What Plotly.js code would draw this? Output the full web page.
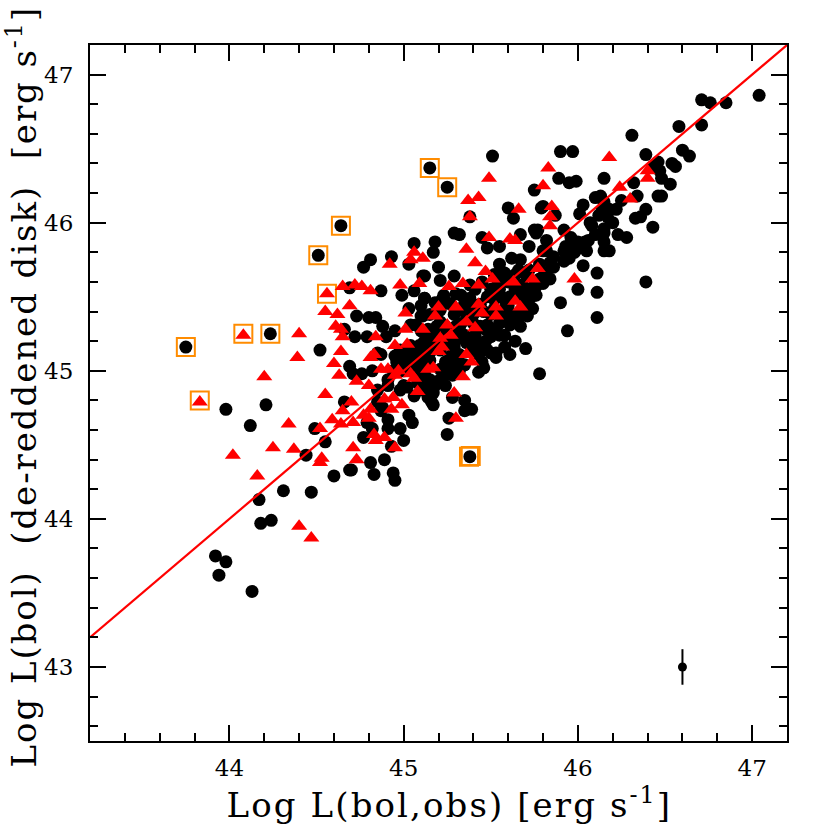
<!DOCTYPE html>
<html>
<head>
<meta charset="utf-8">
<script src="https://cdn.plot.ly/plotly-3.0.1.min.js"></script>
<style>html,body{margin:0;padding:0;background:#fff}
.xtitle{letter-spacing:2.1px}
.ytitle{letter-spacing:1.93px}</style>
</head>
<body>
<div id="chart" style="width:830px;height:830px"></div>
<script>
const blackPoints = [
[43.75,45.16],[44.235,45.25],[44.52,45.14],[43.98,44.74],[44.21,44.77],[44.12,44.63],[44.49,44.61],[44.55,44.52],[44.44,44.43],[44.60,44.29],[44.69,44.33],[44.31,44.19],[44.47,44.18],[44.17,44.13],[44.18,43.97],[44.24,43.99],[43.92,43.75],[43.98,43.71],[43.94,43.62],[44.13,43.51],
[44.64,45.98],[44.51,45.78],[45.06,45.86],[44.93,45.77],[44.81,45.75],[44.77,45.70],[45.03,45.72],[45.11,45.64],[44.69,45.56],[44.87,45.54],[44.99,45.51],[45.06,45.54],[45.12,45.49],[45.10,45.37],[44.73,45.37],[44.80,45.36],[44.84,45.36],[44.88,45.30],[44.95,45.27],[45.04,45.31],[44.66,45.28],[44.72,45.23],[44.79,45.23],[44.90,45.23],[45.10,45.27],
[44.69,45.03],[44.71,44.98],[44.76,44.98],[44.85,44.87],[44.66,44.79],[44.85,45.12],[44.87,45.11],[44.82,45.00],[44.91,44.90],[45.03,44.70],[45.05,44.65],[44.98,44.61],[44.91,44.61],[45.00,44.53],[44.77,44.55],[44.93,44.49],[44.89,44.40],[44.81,44.38],[44.70,44.33],[44.83,44.30],[44.94,44.31],[44.95,44.26],[44.79,44.65],[44.87,44.73],[44.91,44.67],[44.82,44.61],[44.98,45.14],[45.04,45.10],[45.08,45.07],[45.02,44.89],[45.11,44.98],[45.14,44.82],[45.08,44.92],[45.12,44.92],[44.99,45.02],[45.02,45.05],[44.96,45.06],[44.91,44.94],[44.98,44.87],[45.06,44.83],[44.85,44.79],[44.88,44.75],
[45.29,45.93],[45.32,45.92],[45.45,45.90],[45.48,45.83],[45.55,45.84],[45.72,45.84],[45.18,45.87],[45.17,45.80],[45.76,45.93],[45.82,45.81],[45.62,45.76],[45.67,45.75],[45.20,45.70],[45.12,45.64],[45.29,45.64],[45.21,45.61],[45.54,45.61],[45.81,45.66],[45.76,45.51],[45.12,45.49],[45.23,45.51],[45.33,45.51],[45.38,45.49],[45.11,45.37],[45.67,45.30],[45.70,45.15],[45.57,45.41],[45.71,45.37],[45.63,45.36],[45.61,45.50],[45.69,45.52],[45.76,45.59],[45.72,45.55],[45.53,45.28],[45.50,45.23],[45.47,45.20],[45.53,45.12],[45.48,45.14],[45.61,45.11],[45.42,45.18],[45.29,45.38],[45.25,45.46],[45.32,45.28],[45.36,45.19],[45.29,45.16],[45.15,45.16],[45.14,45.28],[45.40,45.38],[45.48,45.31],[45.19,45.30],[45.30,45.30],[45.44,45.30],[45.38,45.19],[45.32,45.11],[45.21,45.33],[45.55,45.32],[45.27,45.10],
[45.78,44.98],[45.46,45.02],[45.43,44.99],[45.31,45.04],[45.28,44.97],[45.18,44.90],[45.17,44.85],[45.16,44.79],[45.17,44.77],[45.28,44.82],[45.35,44.80],[45.39,44.74],[45.35,44.73],[45.26,44.68],[45.25,44.57],[45.38,44.42],[45.21,45.01],[45.25,44.98],[45.50,45.12],[45.53,45.09],[45.43,45.11],[45.29,45.09],[45.12,44.98],[45.10,44.87],
[46.31,46.59],[45.90,46.48],[45.97,46.48],[46.39,46.46],[46.60,46.49],[46.64,46.45],[46.46,46.41],[46.54,46.40],[46.56,46.38],[46.47,46.35],[46.43,46.38],[46.48,46.30],[45.89,46.30],[45.95,46.27],[45.99,46.28],[46.15,46.30],[45.75,46.22],[46.32,46.27],[46.53,46.26],[46.34,46.18],[46.46,46.18],[46.48,46.18],[46.10,46.17],[46.13,46.18],[46.25,46.15],[46.03,46.12],[45.80,46.11],[45.87,46.05],[46.39,46.09],[46.36,46.04],[46.33,46.03],[46.43,45.97],[46.01,46.06],[46.07,46.00],[46.15,46.14],[46.18,46.09],[46.22,46.09],[46.14,46.09],[46.12,46.05],[46.17,46.04],[46.15,45.96],[46.15,45.93],[46.23,45.92],[46.28,45.90],[46.15,45.87],[46.15,45.81],[46.18,45.81],[45.92,45.95],[45.77,45.95],[45.82,45.88],[45.96,45.90],[46.00,45.87],[46.04,45.87],[45.93,45.84],[45.97,45.85],[45.92,45.81],[45.95,45.76],[46.05,45.81],[46.01,45.83],[45.86,45.77],[45.80,45.81],[45.84,45.73],[46.03,45.71],[46.11,45.66],[46.00,45.55],[46.11,45.53],[46.39,45.60],[45.90,45.46],[46.11,45.36],[45.94,45.27],[45.76,45.57],[45.75,45.51],[45.80,45.59],
[45.15,46.37],[45.25,46.24],[45.51,46.45],[45.60,46.10],[45.63,46.03],[45.38,46.04],[45.67,45.92],[45.75,45.95],[45.79,46.10],
[47.04,46.86],[46.71,46.83],[46.76,46.81],[46.85,46.81],[46.58,46.65],[46.71,46.66],
[45.55,45.55],[45.64,45.55],[45.72,45.48],[45.67,45.38],[45.58,45.34],[45.50,45.38],[45.44,45.45],[45.41,45.55],[45.75,45.58],[45.72,45.68],[45.64,45.65],[45.58,45.48],[45.52,45.48],[45.47,45.28],[45.55,45.24],[45.61,45.31],[45.15,45.38],[45.21,45.41],[45.27,45.45],[45.32,45.41],[45.38,45.41],[45.15,45.24],[45.24,45.24],[45.30,45.21],[45.41,45.24],[45.35,45.24],[45.12,45.14],[45.21,45.14],[45.27,45.04],[45.35,45.04],[45.15,45.07],[45.09,45.17],[45.21,44.94],[45.15,44.94],[45.09,44.97],[45.04,45.17],[45.07,45.31],[45.24,44.90],[45.07,45.07],[45.01,45.11],[45.78,45.72],[45.70,45.65],[45.81,45.65],[45.55,45.72],[45.50,45.55],
[45.00,45.00],[45.05,45.00],[45.10,45.05],[45.05,45.12],[45.10,45.12],[45.15,45.12],[45.18,45.18],[45.12,45.20],[45.18,45.24],[45.22,45.20],[45.26,45.18],[45.24,45.30],[45.28,45.26],[45.33,45.32],[45.36,45.38],[45.40,45.32],[45.42,45.44],[45.46,45.40],[45.48,45.50],[45.52,45.42],[45.56,45.50],[45.60,45.44],[45.62,45.38],[45.65,45.50],[45.60,45.60],[45.68,45.58],[45.70,45.45],[45.74,45.42],[45.66,45.68],[45.58,45.66],[45.52,45.65],[45.45,45.60],[45.38,45.58],[45.35,45.45],[45.30,45.52],[45.22,45.48],[45.18,45.46],[45.10,45.44],[45.03,45.42],[44.95,45.10],[44.94,45.00],[45.00,44.90],[45.14,44.88],[45.24,45.06],[45.32,45.00],[45.40,45.14],[45.45,45.06],[45.58,45.16],[45.64,45.20],[45.58,45.24],[45.66,45.36],[45.78,45.62],[45.86,45.70],[45.92,45.74],[45.98,45.80],[46.06,45.88],[46.10,45.92],[46.08,45.98],[46.20,46.00],[45.84,45.62]
];
const redPoints = [
[43.83,44.79],[44.08,45.24],[44.40,45.25],[44.39,45.09],[44.20,44.96],[44.55,44.84],[44.34,44.64],[44.25,44.48],[44.02,44.43],[44.37,44.47],[44.16,44.29],[44.53,44.41],[44.52,44.38],[44.52,44.61],[44.40,43.95],[44.47,43.87],[44.55,45.40],[44.62,45.38],[44.61,45.30],[44.64,45.28],[44.65,45.23],[44.64,45.13],[44.60,45.05],[44.63,44.97],[44.65,44.73],[44.59,44.67],[44.64,44.64],
[44.56,45.52],[44.65,45.57],[44.72,45.58],[44.76,45.57],[44.81,45.54],[44.98,45.58],[45.09,45.59],[44.92,45.72],[45.06,45.80],[45.04,45.75],[45.11,45.76],[44.69,45.44],[45.01,45.39],[44.84,45.23],[45.01,45.28],[45.11,45.28],[44.95,45.17],[45.02,45.18],
[44.73,44.93],[44.80,44.90],[44.70,44.79],[44.71,44.65],[44.81,44.74],[44.77,44.70],[44.80,44.68],[44.89,44.81],[44.94,44.82],[44.93,44.74],[44.99,44.77],[45.08,44.86],[44.81,45.09],[44.83,45.11],[44.87,45.01],[44.91,45.01],[44.97,45.00],[44.95,44.97],[45.04,44.98],[45.06,44.95],[45.14,45.01],[44.83,44.57],[44.89,44.55],[44.84,44.53],[44.95,44.48],[44.71,44.48],[44.73,44.40],
[45.49,45.90],[45.61,45.89],[45.64,45.88],[45.36,45.82],[45.41,45.73],[45.47,45.67],[45.51,45.62],[45.34,45.59],[45.43,45.58],[45.26,45.57],[45.63,45.60],[45.77,45.69],[45.74,45.62],[45.43,45.45],[45.64,45.47],[45.67,45.43],[45.53,45.43],[45.53,45.37],[45.45,45.39],[45.30,45.43],[45.20,45.43],[45.18,45.37],[45.36,45.33],[45.41,45.29],[45.25,45.31],[45.27,45.24],[45.21,45.22],[45.22,45.16],[45.20,45.13],[45.36,45.11],
[45.17,45.02],[45.39,45.06],[45.34,44.96],[45.29,44.85],[45.30,44.68],
[45.83,46.37],[46.18,46.44],[45.80,46.25],[46.40,46.35],[46.40,46.30],[46.24,46.24],[46.30,46.16],[45.85,46.11],[45.84,46.04],[45.84,45.98],[45.98,45.62],
[45.49,46.30],[45.43,46.17],[45.37,46.15],[45.38,46.04],[45.66,46.09]
];
const boxPoints = [
[43.75,45.16],[44.08,45.25],[44.235,45.25],[43.83,44.80],[44.56,45.52],[44.51,45.78],[44.64,45.98],[45.15,46.37],[45.25,46.24],[45.375,44.42],[45.385,44.425]
];
const errorPoint = {x: 46.6, y: 43, err: 0.12};
const fitLine = [43.2, 47.2];
const xTickValues = [44, 45, 46, 47];
const yTickValues = [43, 44, 45, 46, 47];

const FONT = '"DejaVu Serif", serif';
const xs = a => a.map(p => p[0]);
const ys = a => a.map(p => p[1]);

const traces = [
  {type:'scatter', mode:'markers', x:xs(boxPoints), y:ys(boxPoints),
   marker:{symbol:'square-open', size:18, color:'#ff8c00', line:{color:'#ff8c00', width:2}}},
  {type:'scatter', mode:'markers', x:xs(blackPoints), y:ys(blackPoints),
   marker:{symbol:'circle', size:13, color:'#000'}},
  {type:'scatter', mode:'markers', x:xs(redPoints), y:ys(redPoints),
   marker:{symbol:'triangle-up', size:14, color:'#ff0000'}},
  {type:'scatter', mode:'lines', x:fitLine, y:fitLine, line:{color:'#ff0000', width:2.2}},
  {type:'scatter', mode:'markers', x:[errorPoint.x], y:[errorPoint.y],
   marker:{symbol:'circle', size:9, color:'#000'},
   error_y:{type:'constant', value:errorPoint.err, color:'#000', thickness:2, width:0}}
];

function axis(range, vals, titleText, standoff, labelStandoff) {
  return {
    range: range, tickmode:'array', tickvals:vals, ticktext:vals.map(String),
    ticks:'inside', ticklen:16, tickwidth:2, tickcolor:'#000',
    minor:{dtick:0.2, tick0:43, ticks:'inside', ticklen:8, tickwidth:2, tickcolor:'#000', showgrid:false},
    showgrid:false, zeroline:false, showline:true, linecolor:'#000', linewidth:2, mirror:'ticks',
    tickfont:{family:FONT, size:23, color:'#000'}, ticklabelstandoff:labelStandoff,
    title:{text:titleText, font:{family:FONT, size:34, color:'#000'}, standoff:standoff}
  };
}

const layout = {
  width:830, height:830, showlegend:false,
  paper_bgcolor:'#fff', plot_bgcolor:'#fff',
  margin:{l:90, r:43, t:44.5, b:89},
  xaxis: axis([43.2,47.2], xTickValues, '&nbsp;&#8201;Log L(bol,obs) [erg s<sup>-1</sup>]', 8, 5),
  yaxis: axis([42.5,47.2], yTickValues, '&nbsp;Log L(bol)  (de-reddened disk)  [erg s<sup>-1</sup>]', 6, 10)
};
Plotly.newPlot('chart', traces, layout, {displayModeBar:false, responsive:false});
</script>
</body>
</html>
